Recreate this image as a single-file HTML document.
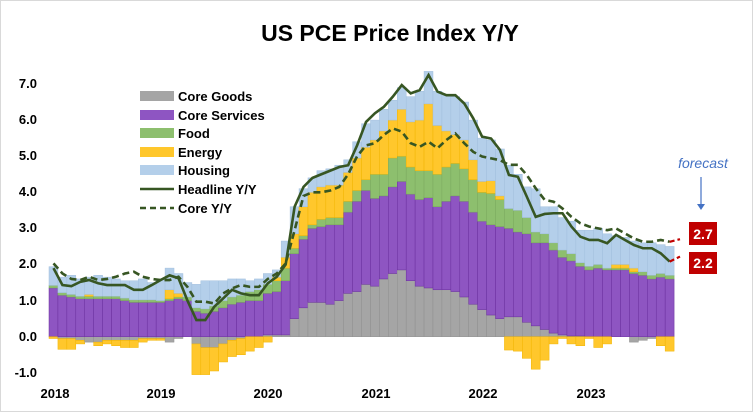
<!DOCTYPE html>
<html><head><meta charset="utf-8"><style>
html,body{margin:0;padding:0;background:#fff;}
svg{display:block;font-family:"Liberation Sans",Arial,sans-serif;}
</style></head><body>
<svg id="c" width="753" height="412" xmlns="http://www.w3.org/2000/svg">
<rect x="0.5" y="0.5" width="752" height="411" fill="#fff" stroke="#d9d9d9"/>
<text x="390" y="41" text-anchor="middle" font-size="23" font-weight="bold" fill="#000">US PCE Price Index Y/Y</text>
<g id="bars"></g>
<g font-size="13" font-weight="bold" fill="#000" text-anchor="end">
<text x="37" y="88">7.0</text><text x="37" y="124">6.0</text><text x="37" y="160">5.0</text>
<text x="37" y="196">4.0</text><text x="37" y="232">3.0</text><text x="37" y="268">2.0</text>
<text x="37" y="305">1.0</text><text x="37" y="341">0.0</text><text x="37" y="377">-1.0</text>
</g>
<g font-size="13" font-weight="bold" fill="#000" text-anchor="middle">
<text x="55" y="398">2018</text><text x="161" y="398">2019</text><text x="268" y="398">2020</text>
<text x="376" y="398">2021</text><text x="483" y="398">2022</text><text x="591" y="398">2023</text>
</g>
<g font-size="13" font-weight="bold" fill="#000">
<rect x="140" y="91" width="34" height="10" fill="#A5A5A5"/><text x="178" y="101">Core Goods</text>
<rect x="140" y="110" width="34" height="10" fill="#8E55C2"/><text x="178" y="120">Core Services</text>
<rect x="140" y="128" width="34" height="10" fill="#8DBF6E"/><text x="178" y="138">Food</text>
<rect x="140" y="147" width="34" height="10" fill="#FFC72C"/><text x="178" y="157">Energy</text>
<rect x="140" y="165" width="34" height="10" fill="#B4CFEA"/><text x="178" y="175">Housing</text>
<line x1="140" y1="189" x2="174" y2="189" stroke="#375623" stroke-width="2.5"/><text x="178" y="194">Headline Y/Y</text>
<line x1="140" y1="208" x2="174" y2="208" stroke="#375623" stroke-width="2.5" stroke-dasharray="6,4"/><text x="178" y="213">Core Y/Y</text>
</g>
<text x="703" y="168" text-anchor="middle" font-size="14" font-style="italic" fill="#4472C4">forecast</text>
<line x1="701" y1="177" x2="701" y2="204" stroke="#4472C4" stroke-width="1.2"/>
<polygon points="697,204 705,204 701,210" fill="#4472C4"/>
<rect x="689" y="222" width="28" height="23" fill="#C00000"/>
<text x="703" y="239" text-anchor="middle" font-size="14" font-weight="bold" fill="#fff">2.7</text>
<rect x="689" y="252" width="28" height="22" fill="#C00000"/>
<text x="703" y="268" text-anchor="middle" font-size="14" font-weight="bold" fill="#fff">2.2</text>
</svg>
<script>
var G=[0,-0.05,-0.05,-0.1,-0.15,-0.15,-0.1,-0.1,-0.1,-0.1,-0.05,-0.05,
-0.05,-0.15,-0.05,0,-0.2,-0.3,-0.3,-0.2,-0.1,-0.05,0,0,
0.05,0.05,0.05,0.5,0.8,0.95,0.95,0.9,1.0,1.2,1.25,1.45,
1.4,1.6,1.75,1.85,1.55,1.4,1.35,1.3,1.3,1.25,1.1,0.9,
0.75,0.6,0.5,0.55,0.55,0.4,0.3,0.2,0.1,0.05,0.02,0.02,
0,0,0,0,0,-0.15,-0.1,-0.05,0,0];
var P=[1.35,1.15,1.1,1.05,1.05,1.05,1.05,1.05,1.0,0.95,0.95,0.95,
0.95,1.0,1.05,1.0,0.7,0.65,0.7,0.8,0.9,0.95,1.0,1.0,
1.2,1.25,1.55,2.3,2.7,3.0,3.05,3.1,3.1,3.45,3.75,4.05,
3.83,3.9,4.15,4.3,3.95,3.8,3.85,3.6,3.75,3.9,3.75,3.45,
3.2,3.1,3.05,3.0,2.9,2.85,2.6,2.6,2.4,2.2,2.1,1.95,
1.85,1.9,1.85,1.85,1.85,1.75,1.7,1.6,1.65,1.6];
var F=[0.07,0.07,0.07,0.07,0.07,0.07,0.07,0.07,0.07,0.07,0.07,0.07,
0.05,0.05,0.05,0.1,0.1,0.12,0.15,0.2,0.2,0.2,0.25,0.3,
0.25,0.3,0.35,0.15,0.1,0.1,0.2,0.2,0.2,0.3,0.3,0.3,
0.67,0.6,0.8,0.7,0.75,0.8,0.75,0.9,0.95,0.9,0.9,0.9,
0.8,0.87,0.75,0.55,0.6,0.45,0.3,0.25,0.2,0.2,0.2,0.1,
0.1,0.1,0.05,0.05,0.05,0.05,0.1,0.1,0.1,0.1];
var E=[-0.05,-0.3,-0.3,-0.1,0.05,-0.1,-0.1,-0.15,-0.2,-0.2,-0.1,-0.05,
-0.05,0.25,0.1,0,-0.85,-0.75,-0.65,-0.5,-0.45,-0.45,-0.4,-0.3,
-0.15,0.1,0.3,0.4,0.8,0.9,0.9,0.9,0.9,0.8,0.9,0.9,
0.95,1.2,1.05,1.3,1.25,1.4,1.85,1.35,1.0,0.8,0.8,0.55,
0.3,0.35,0.1,-0.37,-0.4,-0.6,-0.9,-0.65,-0.2,-0.05,-0.2,-0.25,
-0.05,-0.3,-0.2,0.1,0.1,0.1,0,0,-0.25,-0.4];
var T=[1.94,1.65,1.7,1.6,1.65,1.7,1.65,1.6,1.55,1.55,1.6,1.5,
1.6,1.9,1.75,1.5,1.45,1.55,1.55,1.55,1.6,1.6,1.55,1.6,
1.75,1.85,2.65,3.6,4.1,4.4,4.6,4.65,4.75,4.9,5.4,5.9,
6.0,6.3,6.55,6.9,6.65,6.8,7.35,6.8,6.7,6.65,6.5,6.0,
5.5,5.45,5.2,4.75,4.5,4.15,4.1,3.6,3.6,3.3,3.2,2.95,
2.95,3.0,2.85,2.8,2.75,2.65,2.6,2.6,2.55,2.5];
var H=[1.9,1.43,1.4,1.52,1.57,1.48,1.43,1.43,1.43,1.3,1.3,1.43,
1.57,1.7,1.62,1.0,0.46,0.46,0.83,1.06,1.3,1.2,1.15,1.15,
1.48,1.66,2.0,3.6,4.15,4.4,4.5,4.6,4.7,4.75,5.3,5.95,
6.19,6.37,6.65,6.97,6.74,6.83,7.25,6.79,6.69,6.69,6.46,6.05,
5.54,5.49,5.17,4.48,4.43,3.88,3.32,3.4,3.42,3.42,3.05,2.77,
2.68,2.68,2.59,2.82,2.68,2.54,2.45,2.45,2.31,2.08];
var C=[2.03,1.75,1.6,1.57,1.66,1.57,1.6,1.66,1.75,1.8,1.66,1.6,
1.57,1.57,1.66,1.38,0.97,0.97,0.92,1.2,1.34,1.43,1.38,1.38,
1.6,1.75,2.03,2.95,3.9,4.0,4.0,4.05,4.15,4.5,5.0,5.3,
5.36,5.59,5.77,5.68,5.36,5.26,5.4,5.22,5.45,5.63,5.36,5.12,
4.99,4.94,4.89,4.76,4.76,4.48,4.11,3.79,3.74,3.55,3.32,3.14,
3.05,3.0,2.95,3.0,2.86,2.72,2.63,2.63,2.68,2.63];
function y(v){return 336.7-36.1*v;}
var W=8.93,s='';
function rect(x,a,b,f,st){if(Math.abs(b-a)<1e-4)return;var y1=y(Math.max(a,b)),y2=y(Math.min(a,b));s+='<rect x="'+x.toFixed(2)+'" y="'+y1.toFixed(2)+'" width="'+W+'" height="'+(y2-y1).toFixed(2)+'" fill="'+f+'" stroke="'+st+'" stroke-width="0.5"/>';}
for(var i=0;i<70;i++){
 var x=49+W*i,pos=0,neg=0;
 if(G[i]>=0){rect(x,0,G[i],'#A5A5A5','#8f8f8f');pos=G[i];}else{rect(x,0,G[i],'#A5A5A5','#8f8f8f');neg=G[i];}
 rect(x,pos,P[i],'#8E55C2','#6a2f9e');pos=P[i];
 rect(x,pos,pos+F[i],'#8DBF6E','#7aa95e');pos+=F[i];
 if(E[i]>=0){rect(x,pos,pos+E[i],'#FFC72C','#f0b400');pos+=E[i];}else{rect(x,neg,neg+E[i],'#FFC72C','#f0b400');}
 if(T[i]>pos)rect(x,pos,T[i],'#B4CFEA','#a2bfdd');
}
function line(a){var p=[];for(var i=0;i<a.length;i++)p.push((53.5+W*i).toFixed(2)+','+y(a[i]).toFixed(2));return p.join(' ');}
s+='<polyline points="'+line(C)+'" fill="none" stroke="#375623" stroke-width="2.6" stroke-dasharray="7,4"/>';
s+='<polyline points="'+line(H)+'" fill="none" stroke="#375623" stroke-width="2.6"/>';
var lx=53.5+W*69;
s+='<line x1="'+lx+'" y1="'+y(2.63)+'" x2="680" y2="'+y(2.7)+'" stroke="#C00000" stroke-width="2.2" stroke-dasharray="5,3"/>';
s+='<line x1="'+lx+'" y1="'+y(2.08)+'" x2="680" y2="'+y(2.22)+'" stroke="#C00000" stroke-width="2.2" stroke-dasharray="5,3"/>';
document.getElementById('bars').innerHTML=s;
</script>
</body></html>
